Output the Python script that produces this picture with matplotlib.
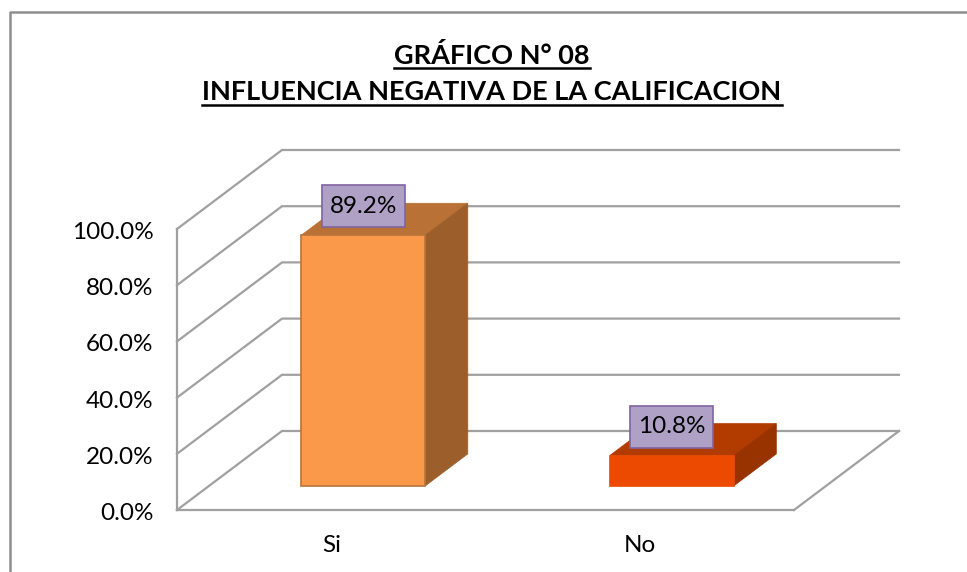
import matplotlib
matplotlib.use("Agg")
import matplotlib.pyplot as plt
from matplotlib.patches import Polygon, Rectangle
from matplotlib.transforms import Affine2D, IdentityTransform
from matplotlib.lines import Line2D
from matplotlib.ticker import FuncFormatter

categories = ["Si", "No"]
values = [89.2, 10.8]
value_labels = ["89.2%", "10.8%"]
y_ticks = [0, 20, 40, 60, 80, 100]
title_lines = ["GRÁFICO N° 08", "INFLUENCIA NEGATIVA DE LA CALIFICACION"]

W, H = 967, 572
plt.rcParams["font.family"] = ["Lato", "DejaVu Sans"]
GRID = "#A0A0A0"
fig = plt.figure(figsize=(W / 100, H / 100), dpi=100, facecolor="white")

# front plane of the 3D box, in pixels
L, R, B, T = 177, 794, 510, 229
ax = fig.add_axes([L / W, (H - B) / H, (R - L) / W, (B - T) / H])
ax.patch.set_alpha(0)
ax.set_xlim(-0.5, 1.5)
ax.set_ylim(0, 100)
for s in ("top", "right"):
    ax.spines[s].set_visible(False)
for s in ("left", "bottom"):
    ax.spines[s].set_color(GRID)
    ax.spines[s].set_linewidth(1.6)
ax.set_yticks(y_ticks)
ax.yaxis.set_major_formatter(FuncFormatter(lambda v, _: f"{v:.1f}%"))
ax.set_xticks(range(len(categories)))
ax.set_xticklabels(categories)
ax.tick_params(axis="y", length=0, pad=17, labelsize=17.5, labelcolor="black")
ax.tick_params(axis="x", length=0, pad=18, labelsize=17.5, labelcolor="black")
for lab in ax.get_yticklabels():
    lab.set_transform(lab.get_transform() + Affine2D().translate(0, -1.5))

DX, DY = 105, 79  # full depth of the box in pixels


def proj(x, v, depth):
    px, py = ax.transData.transform((x, v))
    return px + depth * DX, py + depth * DY


# gridlines: side wall and back wall
xmin, xmax = ax.get_xlim()
for v in y_ticks:
    pts = [proj(xmin, v, 0), proj(xmin, v, 1), proj(xmax, v, 1)]
    ax.add_line(Line2D(*zip(*pts), transform=IdentityTransform(), color=GRID,
                       lw=1.6, clip_on=False, zorder=1))
# right edge of the floor
pts = [proj(xmax, 0, 0), proj(xmax, 0, 1)]
ax.add_line(Line2D(*zip(*pts), transform=IdentityTransform(), color=GRID,
                   lw=1.6, clip_on=False, zorder=1))

# 3D bars
BAR_W = 0.402
D0, D1 = 0.305, 0.71
BOX_W, BOX_H = 83, 42
styles = [
    dict(front="#FA994A", top="#B97135", side="#9C5F2B", edge="#B9743A"),
    dict(front="#EC4A00", top="#B23B00", side="#983300", edge="#EC4A00"),
]
for i, (v, st) in enumerate(zip(values, styles)):
    x0, x1 = i - BAR_W / 2, i + BAR_W / 2
    top = [proj(x0, v, D0), proj(x1, v, D0), proj(x1, v, D1), proj(x0, v, D1)]
    side = [proj(x1, 0, D0), proj(x1, 0, D1), proj(x1, v, D1), proj(x1, v, D0)]
    ax.add_patch(Polygon(top, closed=True, transform=IdentityTransform(), fc=st["top"],
                         ec=st["top"], lw=0.5, clip_on=False, zorder=3))
    ax.add_patch(Polygon(side, closed=True, transform=IdentityTransform(), fc=st["side"],
                         ec=st["side"], lw=0.5, clip_on=False, zorder=3))
    ax.bar(i, v, width=BAR_W, color=st["front"], edgecolor=st["edge"], linewidth=1.2,
           transform=ax.transData + Affine2D().translate(D0 * DX, D0 * DY),
           clip_on=False, zorder=4)
    px, py = proj(i, v, D0)
    ax.add_patch(Rectangle((px - BOX_W / 2, py + 29 - BOX_H / 2), BOX_W, BOX_H,
                           transform=IdentityTransform(), fc="#AFA1C6", ec="#8064A2",
                           lw=1.2, clip_on=False, zorder=5))
    ax.text(px, py + 29, value_labels[i], transform=IdentityTransform(), ha="center",
            va="center", fontsize=17.5, color="black", zorder=6)

# chart frame
fig.add_artist(Line2D([10 / W, 10 / W, 1], [0, 1 - 11.5 / H, 1 - 11.5 / H],
                      transform=fig.transFigure, color="#8E8E8E", lw=1.8))

# underlined title
title_y = [55, 92]
rule_y = [68, 105]
for line, ty, ry in zip(title_lines, title_y, rule_y):
    t = fig.text(492 / W, 1 - ty / H, line, ha="center", va="center", fontsize=19.5,
                 fontweight="bold", color="black")
    bb = t.get_window_extent(fig.canvas.get_renderer())
    fig.add_artist(Line2D([bb.x0 / W, bb.x1 / W], [1 - ry / H] * 2,
                          transform=fig.transFigure, color="black", lw=1.8))

fig.savefig("out.png", dpi=100)
